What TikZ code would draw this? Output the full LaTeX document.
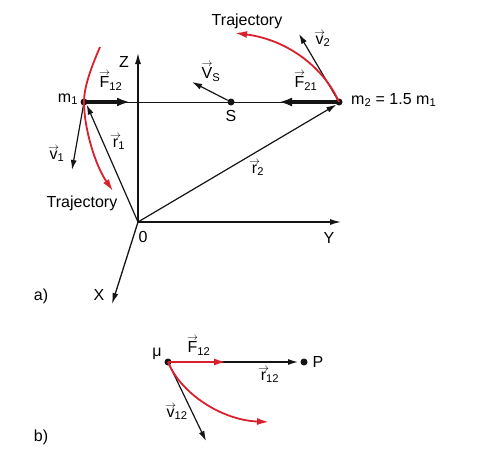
\documentclass[tikz,border=0pt]{standalone}
\usepackage{amsmath}
\usepackage{fontspec}
\setmainfont{Liberation Sans}
\usepackage{tikz}
\usetikzlibrary{arrows.meta, positioning, calc}
\definecolor{trRed}{RGB}{218,32,44}
\definecolor{trInk}{RGB}{20,20,20}
\newsavebox{\vecletter}
\newcommand{\vlab}[2]{\sbox{\vecletter}{#1}%
  \makebox[0pt][l]{\makebox[\wd\vecletter]{\raisebox{\dimexpr\ht\vecletter+0.5pt\relax}{$\scriptstyle\rightarrow$}}}%
  \usebox{\vecletter}\textsubscript{#2}}

\begin{document}
\begin{tikzpicture}[x=1pt,y=-1pt,font=\fontsize{16}{18}\selectfont,
  thin/.style={draw=trInk,line width=1.2pt,-{Latex[length=10pt,width=6pt]}},
  force/.style={draw=trInk,line width=3.2pt,-{Latex[length=13pt,width=9pt]}},
  traj/.style={draw=trRed,line width=1.8pt,-{Latex[length=12pt,width=7pt]}},
  axis/.style={draw=trInk,line width=1.3pt,-{Latex[length=11pt,width=6pt]}},
  mass/.style={circle,fill=trInk,inner sep=0pt,minimum size=7pt},
  lbl/.style={inner sep=1pt}]
\useasboundingbox (0,0) rectangle (481,460);

% ===== a) two bodies =====
\coordinate (o) at (138,222);
\coordinate (zend) at (138,53);
\coordinate (yend) at (341,222);
\coordinate (xend) at (112,304);
\draw[axis] (o) -- (zend);
\draw[axis] (o) -- (yend);
\draw[axis] (o) -- (xend);
\node[lbl] (zl) at (124,62) {Z};
\node[lbl] (yl) at (329,238) {Y};
\node[lbl] (xl) at (99,295) {X};
\node[lbl] (ol) at (143,237) {0};

\node[mass] (m1) at (84,102) {};
\node[mass] (s) at (231,102) {};
\node[mass] (m2) at (339,102) {};
\draw[trInk,line width=1pt] (m1) -- (m2);

\draw[thin] (o) -- (m1.south east);
\draw[thin] (o) -- (m2.south west);
\node[lbl] (r1l) at (119,142) {\vlab{r}{1}};
\node[lbl] (r2l) at (258,168) {\vlab{r}{2}};

\coordinate (f12end) at (130,102);
\coordinate (f21end) at (279,102);
\draw[force] (m1.center) -- (f12end);
\draw[force] (m2.center) -- (f21end);
\node[lbl] (f12l) at (111,81) {\vlab{F}{12}};
\node[lbl] (f21l) at (306,81) {\vlab{F}{21}};

\coordinate (vsend) at (192,82);
\draw[thin] (s) -- (vsend);
\node[lbl] (vsl) at (211,72) {\vlab{V}{S}};
\node[lbl,below=3pt of s] (sl) {S};

% velocities
\coordinate (v1end) at (72,170);
\coordinate (v2end) at (299,34);
\draw[thin] (m1.center) -- (v1end);
\draw[thin] (m2.center) -- (v2end);
\node[lbl] (v1l) at (57,154) {\vlab{v}{1}};
\node[lbl] (v2l) at (323,39) {\vlab{v}{2}};

% trajectories
\draw[traj] (100,47) .. controls (90,70) and (84,88) .. (84,102)
  .. controls (84,128) and (95,165) .. (113,191);
\draw[traj] (m2.center) .. controls (325,70) and (290,40) .. (235,33);
\node[lbl] (t1l) at (82,203) {Trajectory};
\node[lbl] (t2l) at (247,21) {Trajectory};

\node[lbl] (m1l) at (68,99) {m\textsubscript{1}};
\node[lbl,anchor=west] (m2l) at (350,100) {m\textsubscript{2} = 1.5 m\textsubscript{1}};
\node[lbl] (al) at (41,296) {a)};

% ===== b) reduced mass =====
\node[mass] (mu) at (168,362) {};
\node[mass] (p) at (304,362) {};
\node[lbl] (mul) at (157,354) {μ};
\node[lbl] (pl) at (318,362) {P};
\draw[thin] (mu.center) -- (298,362);
\draw[draw=trRed,line width=1.8pt,-{Latex[length=12pt,width=7pt]}] (mu.center) -- (226,362);
\node[lbl] (f12bl) at (199,346) {\vlab{F}{12}};
\node[lbl] (r12l) at (270,375) {\vlab{r}{12}};
\draw[thin] (mu.center) -- (206,441);
\node[lbl] (v12l) at (177,412) {\vlab{v}{12}};
\draw[traj] (mu.center) .. controls (180,392) and (220,420) .. (269,422);
\node[lbl] (bl) at (41,437) {b)};
\end{tikzpicture}
\end{document}
